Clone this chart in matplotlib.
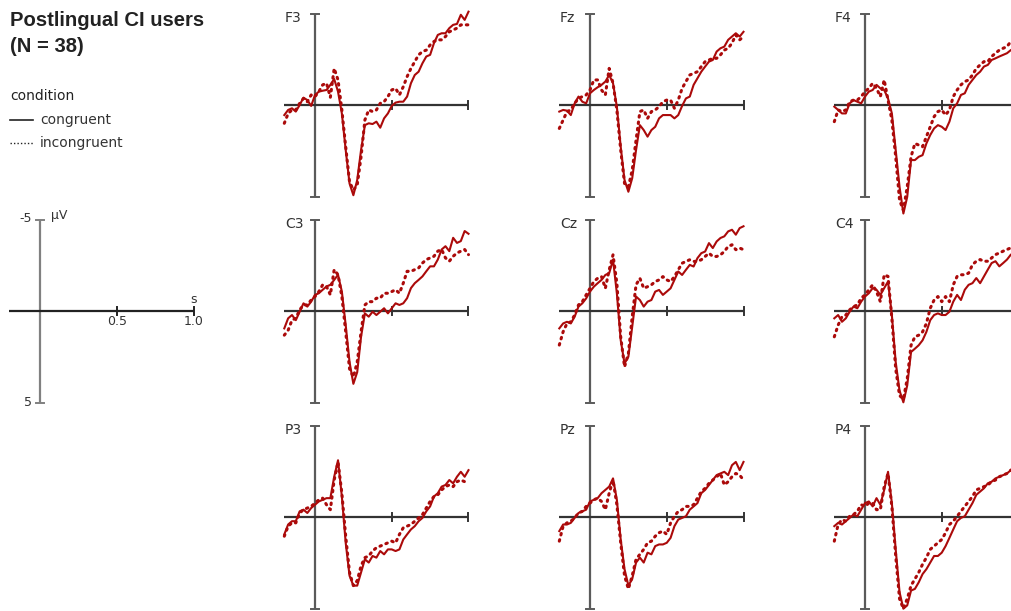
import numpy as np
import matplotlib
matplotlib.use("Agg")
from matplotlib import pyplot as plt
from matplotlib.lines import Line2D

# sample times in seconds
times = np.round(np.arange(-0.2, 1.0001, 0.025), 3)

electrodes = ["F3", "Fz", "F4", "C3", "Cz", "C4", "P3", "Pz", "P4"]

# grand averages in microvolts, congruent / incongruent
f3_con = [0.55, 0.27, 0.18, 0.36, 0.0, -0.4, -0.27, 0.05, -0.55, -0.73, -0.78, -0.82, -1.1, -1.42, -0.73, 0.46,
          2.46, 4.29, 4.93, 4.1, 2.46, 1.1, 1.0, 1.04, 0.91, 1.24, 0.73, 0.46, 0.05, -0.13, -0.18, -0.18,
          -0.46, -1.19, -1.64, -1.82, -2.28, -2.65, -2.74, -3.38, -3.83, -3.92, -3.92, -4.2, -4.38, -4.43, -4.93, -4.65, -5.1]
f3_inc = [1.0, 0.46, 0.27, 0.27, -0.09, -0.36, -0.18, -0.55, -0.46, -0.73, -1.1, -1.19, -0.42, -2.0, -1.37, 0.27,
          2.28, 4.2, 4.65, 4.38, 2.83, 0.82, 0.27, 0.36, 0.27, -0.09, -0.18, -0.46, -0.82, -0.91, -0.55, -1.0,
          -1.55, -2.0, -2.37, -2.74, -2.92, -3.0, -3.28, -3.47, -3.56, -3.56, -3.74, -4.0, -4.1, -4.2, -4.38, -4.38, -4.38]
fz_con = [0.36, 0.27, 0.31, 0.55, -0.09, -0.46, -0.18, -0.09, -0.64, -0.82, -0.97, -1.1, -1.28, -1.64, -1.19, 0.09,
          2.28, 4.1, 4.74, 4.0, 2.46, 1.1, 1.37, 1.73, 1.37, 1.19, 0.73, 0.55, 0.55, 0.55, 0.73, 0.55,
          0.05, -0.36, -0.46, -1.1, -1.46, -1.82, -2.1, -2.37, -2.46, -2.92, -3.1, -3.19, -3.56, -3.74, -3.92, -3.74, -4.0]
fz_inc = [1.28, 0.82, 0.36, 0.27, -0.09, -0.36, -0.46, -0.55, -0.82, -1.37, -1.37, -0.82, -0.55, -2.0, -1.19, 0.27,
          2.46, 4.29, 4.47, 3.56, 1.92, 0.36, 0.27, 0.73, 0.36, 0.27, 0.09, -0.18, -0.27, -0.27, 0.18, -0.27,
          -0.91, -1.28, -1.64, -1.73, -1.82, -2.1, -2.37, -2.46, -2.55, -2.55, -2.74, -3.0, -3.1, -3.38, -3.83, -3.56, -3.74]
f4_con = [0.09, 0.27, 0.46, 0.46, -0.09, -0.27, -0.18, -0.09, -0.46, -0.73, -0.82, -1.1, -0.91, -0.82, -0.36, 0.46,
          2.46, 4.47, 5.93, 5.02, 3.01, 3.01, 2.83, 2.74, 2.1, 1.64, 1.28, 1.1, 1.19, 1.37, 0.91, 0.18,
          -0.09, -0.55, -0.64, -1.1, -1.37, -1.64, -1.82, -2.1, -2.19, -2.46, -2.55, -2.65, -2.74, -2.83, -3.0, -3.1, -3.19]
f4_inc = [0.91, 0.27, 0.36, 0.27, -0.18, -0.27, -0.27, -0.46, -0.73, -0.91, -1.19, -0.91, -0.46, -1.37, -0.27, 0.82,
          2.83, 5.2, 5.75, 4.47, 2.83, 2.1, 2.19, 2.28, 1.73, 1.19, 0.64, 0.36, 0.27, 0.55, 0.27, -0.46,
          -0.82, -1.1, -1.28, -1.37, -1.64, -2.0, -2.19, -2.37, -2.37, -2.65, -2.83, -3.0, -3.1, -3.19, -3.47, -3.56, -3.65]
c3_con = [0.95, 0.4, 0.22, 0.5, 0.04, -0.42, -0.24, -0.51, -0.88, -0.97, -1.16, -1.34, -1.43, -1.7, -1.98, -1.06,
          0.77, 2.79, 3.98, 3.34, 1.41, 0.13, 0.31, 0.04, 0.22, 0.04, -0.15, 0.13, -0.15, -0.42, -0.33, -0.42,
          -0.7, -1.25, -1.52, -1.7, -1.89, -2.17, -2.44, -2.44, -2.81, -3.36, -3.54, -3.27, -4.0, -3.72, -3.82, -4.37, -4.22]
c3_inc = [1.32, 1.05, 0.5, 0.4, -0.06, -0.33, -0.33, -0.6, -0.79, -1.06, -1.43, -1.34, -0.88, -2.26, -1.98, -0.79,
          1.14, 3.16, 3.61, 2.79, 1.14, -0.33, -0.51, -0.51, -0.7, -0.7, -0.97, -0.97, -1.06, -1.16, -0.97, -1.52,
          -2.17, -2.17, -2.26, -2.35, -2.62, -2.81, -2.9, -2.99, -3.27, -3.36, -2.9, -2.72, -2.99, -3.17, -3.27, -3.36, -3.08]
cz_con = [0.95, 0.68, 0.59, 0.68, 0.31, -0.24, -0.42, -0.69, -1.06, -1.33, -1.52, -1.7, -1.97, -2.07, -2.8, -0.97,
          1.59, 2.87, 2.5, 0.86, -0.79, -0.6, -0.24, -0.51, -0.6, -1.06, -1.15, -0.88, -1.06, -1.24, -1.7, -2.16,
          -1.97, -2.25, -2.52, -2.43, -2.89, -3.16, -3.25, -3.71, -3.44, -3.8, -3.99, -4.08, -4.35, -4.44, -4.17, -4.53, -4.63]
cz_inc = [1.86, 1.13, 0.68, 0.59, 0.22, -0.33, -0.51, -0.88, -1.24, -1.61, -1.79, -1.88, -1.24, -2.25, -3.07, -1.52,
          1.41, 3.05, 2.32, 0.31, -1.43, -1.79, -1.24, -1.33, -1.43, -1.61, -1.7, -1.88, -1.7, -1.61, -1.88, -2.25,
          -2.61, -2.71, -2.8, -2.71, -2.71, -2.8, -2.98, -3.16, -2.98, -2.98, -3.07, -3.25, -3.53, -3.62, -3.35, -3.44, -3.35]
c4_con = [0.4, 0.22, 0.59, 0.4, 0.04, -0.24, -0.15, -0.51, -0.79, -0.97, -1.25, -1.16, -0.88, -1.25, -1.61, 0.22,
          2.79, 4.35, 4.99, 4.07, 2.24, 2.06, 1.87, 1.6, 1.14, 0.5, 0.22, 0.13, 0.22, 0.22, 0.04, -0.51,
          -0.88, -0.6, -1.16, -1.43, -1.52, -1.8, -1.52, -1.89, -2.26, -2.62, -2.72, -2.44, -2.62, -2.81, -3.08, -3.17, -3.27]
c4_inc = [1.41, 0.77, 0.31, 0.22, -0.06, -0.24, -0.33, -0.7, -0.88, -1.16, -1.43, -1.06, -0.51, -1.98, -1.89, 0.4,
          3.16, 4.62, 4.81, 3.71, 1.87, 1.41, 1.32, 1.14, 0.68, -0.15, -0.6, -0.79, -0.51, -0.79, -0.51, -1.43,
          -1.89, -1.98, -1.98, -2.07, -2.53, -2.72, -2.81, -2.72, -2.72, -2.9, -3.08, -3.17, -3.27, -3.36, -3.45, -3.54, -3.63]
p3_con = [0.95, 0.41, 0.23, 0.23, -0.31, -0.4, -0.22, -0.49, -0.67, -0.85, -0.94, -1.03, -1.03, -2.2, -3.1, -1.12,
          1.41, 3.21, 3.75, 3.75, 3.03, 2.31, 2.49, 2.13, 2.22, 1.86, 2.04, 1.77, 1.77, 1.86, 1.77, 1.23,
          0.95, 0.68, 0.5, 0.23, 0.05, -0.31, -0.58, -1.12, -1.3, -1.66, -1.75, -2.02, -1.84, -2.2, -2.47, -2.2, -2.56]
p3_inc = [1.05, 0.5, 0.32, 0.32, -0.22, -0.4, -0.49, -0.58, -0.76, -0.94, -1.03, -0.67, -0.4, -2.02, -3.01, -1.3,
          1.05, 3.03, 3.75, 3.48, 2.67, 2.22, 2.13, 1.86, 1.68, 1.59, 1.5, 1.41, 1.32, 1.41, 0.95, 0.59,
          0.5, 0.41, 0.23, 0.05, -0.13, -0.49, -0.85, -1.12, -1.21, -1.48, -1.66, -1.75, -1.66, -1.93, -2.02, -1.93, -2.02]
pz_con = [0.77, 0.41, 0.41, 0.32, 0.05, -0.22, -0.31, -0.4, -0.85, -0.94, -1.03, -1.3, -1.48, -1.66, -2.11, -0.94,
          1.23, 2.85, 3.75, 3.39, 2.49, 2.22, 2.49, 1.95, 2.04, 1.59, 1.5, 1.5, 1.41, 1.14, 0.5, 0.14,
          0.05, -0.04, -0.4, -0.58, -0.76, -1.3, -1.48, -1.75, -2.02, -2.29, -2.38, -2.47, -2.29, -2.83, -3.01, -2.56, -3.01]
pz_inc = [1.32, 0.5, 0.32, 0.23, 0.05, -0.22, -0.31, -0.58, -0.76, -0.94, -1.03, -0.85, -0.4, -1.3, -2.02, -0.67,
          1.41, 3.21, 3.93, 3.21, 2.31, 2.04, 1.77, 1.41, 1.32, 1.05, 0.86, 0.77, 0.95, 0.32, -0.04, -0.31,
          -0.4, -0.58, -0.58, -0.67, -1.03, -1.39, -1.57, -1.84, -2.02, -2.2, -2.38, -1.75, -1.93, -2.2, -2.38, -2.29, -2.02]
p4_con = [0.5, 0.32, 0.41, 0.23, 0.05, -0.13, -0.04, -0.4, -0.76, -0.85, -0.58, -1.03, -0.67, -1.48, -2.47, -0.76,
          1.77, 4.11, 5.01, 4.83, 4.02, 3.93, 3.57, 3.12, 2.85, 2.49, 2.13, 2.13, 1.95, 1.59, 1.14, 0.68,
          0.23, 0.05, -0.04, -0.4, -0.76, -1.21, -1.39, -1.57, -1.84, -1.93, -2.11, -2.2, -2.29, -2.38, -2.56, -2.65, -2.74]
p4_inc = [1.32, 0.41, 0.14, 0.23, -0.04, -0.13, -0.31, -0.67, -0.58, -0.76, -0.76, -0.4, -0.4, -1.66, -2.38, -0.58,
          2.13, 4.47, 5.01, 4.47, 3.75, 3.39, 3.03, 2.58, 2.22, 1.77, 1.59, 1.41, 1.23, 0.86, 0.41, 0.23,
          -0.04, -0.31, -0.58, -0.85, -1.12, -1.48, -1.57, -1.66, -1.75, -1.93, -2.02, -2.2, -2.29, -2.38, -2.56, -2.65, -2.74]

congruent = [f3_con, fz_con, f4_con, c3_con, cz_con, c4_con, p3_con, pz_con, p4_con]
incongruent = [f3_inc, fz_inc, f4_inc, c3_inc, cz_inc, c4_inc, p3_inc, pz_inc, p4_inc]

W, H = 1011, 611
PX_S = 153.5   # pixels per second
PX_UV = 18.3   # pixels per microvolt
col_x = [315, 590, 865]
row_y = [105, 311, 517]
red = "#ab0a0a"
txt = "#333333"

fig = plt.figure(figsize=(W / 100, H / 100), dpi=100)


def make_panel(x0, y0):
    left = x0 - 0.3 * PX_S
    top = y0 - 5.6 * PX_UV
    w = 1.8 * PX_S
    h = 11.2 * PX_UV
    ax = fig.add_axes([left / W, 1 - (top + h) / H, w / W, h / H])
    ax.set_xlim(-0.3, 1.5)
    ax.set_ylim(5.6, -5.6)
    ax.axis("off")
    return ax


def draw_axes(ax, vcol="#5a5a5a", hcol="#333333"):
    ax.plot([0, 0], [-5, 5], color=vcol, lw=1.6, solid_capstyle="butt", clip_on=False)
    for v in (-5, 5):
        ax.plot([-0.025, 0.025], [v, v], color=vcol, lw=1.4, clip_on=False)
    ax.plot([-0.2, 1.0], [0, 0], color=hcol, lw=1.6, solid_capstyle="butt", clip_on=False)
    for s in (0.5, 1.0):
        ax.plot([s, s], [-0.22, 0.22], color=hcol, lw=1.4, clip_on=False)


for i, name in enumerate(electrodes):
    ax = make_panel(col_x[i % 3], row_y[i // 3])
    draw_axes(ax)
    ax.plot(times, congruent[i], color=red, lw=1.5, clip_on=False)
    ax.plot(times, incongruent[i], color=red, lw=2.2, linestyle=(0, (0.5, 1.6)),
            dash_capstyle="round", clip_on=False)
    ax.text(-0.195, -4.75, name, fontsize=10, color=txt, ha="left", va="center")

# scale panel
ax = make_panel(40, 311)
draw_axes(ax, vcol="#808080", hcol="#222222")
ax.text(-0.05, -5.05, "-5", fontsize=9, color=txt, ha="right", va="center")
ax.text(-0.05, 5.0, "5", fontsize=9, color=txt, ha="right", va="center")
ax.text(0.07, -5.2, "µV", fontsize=9, color=txt, ha="left", va="center")
ax.text(1.0, -0.65, "s", fontsize=9, color=txt, ha="center", va="center")
for s, lab in [(0.5, "0.5"), (1.0, "1.0")]:
    ax.text(s, 0.6, lab, fontsize=9, color=txt, ha="center", va="center")

# title and legend
fig.text(10 / W, 1 - 21 / H, "Postlingual CI users", fontsize=14.6, fontweight="bold",
         family="Liberation Sans", color="#222222", va="center")
fig.text(10 / W, 1 - 47 / H, "(N = 38)", fontsize=14.6, fontweight="bold",
         family="Liberation Sans", color="#222222", va="center")
fig.text(10 / W, 1 - 96 / H, "condition", fontsize=10, color="#222222", va="center")
fig.text(40 / W, 1 - 120 / H, "congruent", fontsize=10, color=txt, va="center")
fig.text(40 / W, 1 - 143 / H, "incongruent", fontsize=10, color=txt, va="center")
fig.add_artist(Line2D([10 / W, 33 / W], [1 - 120 / H, 1 - 120 / H], color="#222222", lw=1.2))
fig.add_artist(Line2D([10 / W, 33 / W], [1 - 143 / H, 1 - 143 / H], color="#222222", lw=1.0,
                      linestyle=(0, (1, 1.5))))

fig.savefig("out.png", dpi=100)
